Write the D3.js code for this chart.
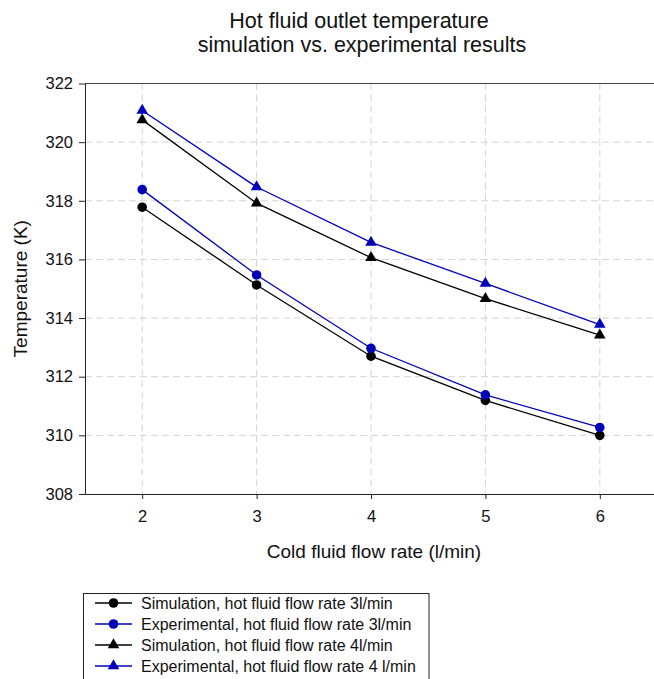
<!DOCTYPE html>
<html>
<head>
<meta charset="utf-8">
<script src="https://cdn.jsdelivr.net/npm/d3@7"></script>
<style>
  html, body { margin: 0; padding: 0; background: #fff; }
  svg { display: block; font-family: "Liberation Sans", Arial, sans-serif; }
  .grid line { stroke: #d4d4d4; stroke-dasharray: 7 4; }
</style>
</head>
<body>
<div id="chart"></div>
<script>
// Hot fluid outlet temperature, simulation vs experiment.

const WIDTH = 654;
const HEIGHT = 679;
const BLUE = "#0000b8";

const flowRates = [2, 3, 4, 5, 6];
const sim3 = [317.78, 315.13, 312.70, 311.19, 310.00];
const exp3 = [318.38, 315.47, 312.97, 311.38, 310.27];
const sim4 = [320.76, 317.92, 316.06, 314.66, 313.42];
const exp4 = [321.08, 318.47, 316.58, 315.18, 313.78];

const xTicks = [2, 3, 4, 5, 6];
const yTicks = [308, 310, 312, 314, 316, 318, 320, 322];
const seriesNames = [
    "Simulation, hot fluid flow rate 3l/min",
    "Experimental, hot fluid flow rate 3l/min",
    "Simulation, hot fluid flow rate 4l/min",
    "Experimental, hot fluid flow rate 4 l/min"
];

const series = [
    { name: seriesNames[0], values: sim3, color: "#000", symbol: d3.symbolCircle, size: 72 },
    { name: seriesNames[1], values: exp3, color: BLUE, symbol: d3.symbolCircle, size: 72 },
    { name: seriesNames[2], values: sim4, color: "#000", symbol: d3.symbolTriangle, size: 58 },
    { name: seriesNames[3], values: exp4, color: BLUE, symbol: d3.symbolTriangle, size: 58 }
];

const plot = { left: 85, right: 657, top: 83.5, bottom: 494 };

const x = d3.scaleLinear().domain([1.5, 6.5]).range([plot.left, plot.right]);
const y = d3.scaleLinear().domain([308, 322]).range([plot.bottom, plot.top]);

const svg = d3.select("#chart").append("svg")
    .attr("width", WIDTH)
    .attr("height", HEIGHT);

// title
const title = svg.append("text")
    .attr("text-anchor", "middle")
    .attr("font-size", 21.5)
    .attr("fill", "#111");
title.append("tspan").attr("x", 359).attr("y", 28).text("Hot fluid outlet temperature");
title.append("tspan").attr("x", 362).attr("y", 52).text("simulation vs. experimental results");

// grid
const grid = svg.append("g").attr("class", "grid");
grid.selectAll("line.v")
    .data(xTicks)
    .join("line")
    .attr("class", "v")
    .attr("x1", d => x(d)).attr("x2", d => x(d))
    .attr("y1", plot.top).attr("y2", plot.bottom);
grid.selectAll("line.h")
    .data(yTicks.slice(1, -1))
    .join("line")
    .attr("class", "h")
    .attr("x1", plot.left).attr("x2", plot.right)
    .attr("y1", d => y(d)).attr("y2", d => y(d));

// top frame line
svg.append("line")
    .attr("x1", plot.left).attr("x2", plot.right)
    .attr("y1", plot.top).attr("y2", plot.top)
    .attr("stroke", "#444");

// axes
const xAxis = svg.append("g")
    .attr("transform", `translate(0,${plot.bottom})`)
    .call(d3.axisBottom(x).tickValues(xTicks).tickFormat(d3.format("d"))
        .tickSize(5).tickPadding(11).tickSizeOuter(0));
const yAxis = svg.append("g")
    .attr("transform", `translate(${plot.left},0)`)
    .call(d3.axisLeft(y).tickValues(yTicks).tickFormat(d3.format("d"))
        .tickSize(6).tickPadding(6).tickSizeOuter(0));

[xAxis, yAxis].forEach(a => {
    a.select(".domain").attr("stroke", "#222");
    a.selectAll(".tick line").attr("stroke", "#222");
    a.selectAll(".tick text")
        .attr("font-family", "Liberation Sans, Arial, sans-serif")
        .attr("font-size", 16.5)
        .attr("fill", "#111");
});

// axis titles
svg.append("text")
    .attr("x", 374).attr("y", 558)
    .attr("text-anchor", "middle")
    .attr("font-size", 19)
    .attr("fill", "#111")
    .text("Cold fluid flow rate (l/min)");

svg.append("text")
    .attr("transform", `translate(27,${(plot.top + plot.bottom) / 2}) rotate(-90)`)
    .attr("text-anchor", "middle")
    .attr("font-size", 19)
    .attr("fill", "#111")
    .text("Temperature (K)");

// lines and markers
const line = d3.line()
    .x((d, i) => x(flowRates[i]))
    .y(d => y(d));

const seriesSel = svg.append("g")
    .selectAll("g")
    .data(series)
    .join("g");

seriesSel.append("path")
    .attr("d", d => line(d.values))
    .attr("fill", "none")
    .attr("stroke", d => d.color)
    .attr("stroke-width", 1.3);

seriesSel.each(function (s) {
    d3.select(this).selectAll("path.pt")
        .data(s.values)
        .join("path")
        .attr("class", "pt")
        .attr("transform", (d, i) => `translate(${x(flowRates[i])},${y(d)})`)
        .attr("d", d3.symbol(s.symbol, s.size))
        .attr("fill", s.color);
});

// legend
const legend = { left: 83.5, top: 593.5, right: 429, rowStart: 603, rowGap: 21 };

svg.append("rect")
    .attr("x", legend.left).attr("y", legend.top)
    .attr("width", legend.right - legend.left)
    .attr("height", HEIGHT - legend.top + 4)
    .attr("fill", "none")
    .attr("stroke", "#222");

const items = svg.append("g")
    .selectAll("g")
    .data(series)
    .join("g")
    .attr("transform", (d, i) => `translate(0,${legend.rowStart + i * legend.rowGap})`);

items.append("line")
    .attr("x1", 95).attr("x2", 132)
    .attr("stroke", d => d.color)
    .attr("stroke-width", 1.3);

items.append("path")
    .attr("transform", "translate(113.5,0)")
    .attr("d", d => d3.symbol(d.symbol, d.size)())
    .attr("fill", d => d.color);

items.append("text")
    .attr("x", 141)
    .attr("dy", "0.36em")
    .attr("font-size", 16)
    .attr("fill", "#111")
    .text(d => d.name);
</script>
</body>
</html>
